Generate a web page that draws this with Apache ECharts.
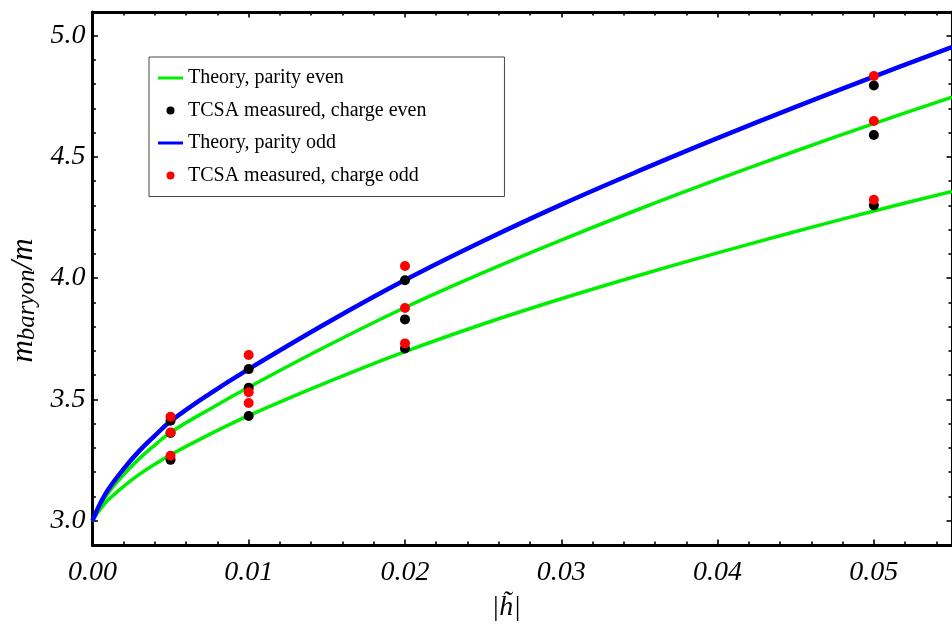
<!DOCTYPE html>
<html><head><meta charset="utf-8">
<script src="https://cdn.jsdelivr.net/npm/echarts@6/dist/echarts.min.js"></script>
<style>html,body{margin:0;padding:0;background:#fff}#c{width:952px;height:634px}</style>
</head><body><div id="c"></div>
<script>
// ---- data ----
const hCurve = [0, 0.0002, 0.0005, 0.001, 0.002, 0.003, 0.004, 0.005, 0.0075, 0.01, 0.015, 0.02, 0.025, 0.03, 0.035, 0.04, 0.045, 0.05, 0.055];
const theoryEvenLower = [3.0, 3.020, 3.047, 3.085, 3.142, 3.191, 3.233, 3.272, 3.356, 3.433, 3.570, 3.697, 3.811, 3.915, 4.012, 4.104, 4.192, 4.277, 4.357];
const theoryEvenUpper = [3.0, 3.027, 3.063, 3.114, 3.190, 3.256, 3.312, 3.364, 3.460, 3.550, 3.720, 3.879, 4.023, 4.157, 4.285, 4.407, 4.524, 4.637, 4.746];
const theoryOdd       = [3.0, 3.030, 3.071, 3.128, 3.214, 3.288, 3.351, 3.410, 3.523, 3.625, 3.815, 3.992, 4.153, 4.303, 4.443, 4.577, 4.706, 4.831, 4.952];

const hMeasured   = [0.005, 0.01, 0.02, 0.05];
const chargeEvenA = [3.412, 3.625, 3.991, 4.794];
const chargeEvenB = [3.362, 3.548, 3.830, 4.590];
const chargeEvenC = [3.251, 3.432, 3.710, 4.300];
const chargeOddA  = [3.429, 3.683, 4.050, 4.833];
const chargeOddB  = [3.364, 3.530, 3.877, 4.648];
const chargeOddC  = [3.268, 3.485, 3.731, 4.323];

const xMajorTicks = [0, 0.01, 0.02, 0.03, 0.04, 0.05];
const xMinorTicks = [0.002, 0.004, 0.006, 0.008, 0.012, 0.014, 0.016, 0.018, 0.022, 0.024, 0.026, 0.028,
                     0.032, 0.034, 0.036, 0.038, 0.042, 0.044, 0.046, 0.048, 0.052, 0.054];
const yMajorTicks = [3.0, 3.5, 4.0, 4.5, 5.0];
const yMinorTicks = [2.9, 3.1, 3.2, 3.3, 3.4, 3.6, 3.7, 3.8, 3.9, 4.1, 4.2, 4.3, 4.4, 4.6, 4.7, 4.8, 4.9, 5.1];

const nameEvenTheory = 'Theory, parity even';
const nameEvenTCSA = 'TCSA measured, charge even';
const nameOddTheory = 'Theory, parity odd';
const nameOddTCSA = 'TCSA measured, charge odd';

// ---- build ----
const zip = (xs, ys) => xs.map((x, i) => [x, ys[i]]);
const pts = (arrs) => arrs.flatMap(a => zip(hMeasured, a));

const FONT = 'Liberation Serif';
const X_MIN = 0, X_MAX = 0.055, Y_MIN = 2.9, Y_MAX = 5.097;
const LINE_ICON = 'path://M0,0L25,0L25,3L0,3Z';

function xAx(pos, ticks, len, withLine, withLabels) {
  return {
    type: 'value', position: pos, min: X_MIN, max: X_MAX,
    axisLine: { show: withLine, onZero: false, lineStyle: { color: '#000', width: 3 } },
    axisTick: { show: true, inside: true, length: len, customValues: ticks, lineStyle: { color: '#000', width: 1.6 } },
    axisLabel: withLabels ? {
      show: true, customValues: xMajorTicks, formatter: v => Number(v).toFixed(2),
      fontFamily: FONT, fontStyle: 'italic', fontSize: 28, color: '#000', margin: 14
    } : { show: false },
    splitLine: { show: false }
  };
}
function yAx(pos, ticks, len, withLine, withLabels) {
  return {
    type: 'value', position: pos, min: Y_MIN, max: Y_MAX,
    axisLine: { show: withLine, onZero: false, lineStyle: { color: '#000', width: 3 } },
    axisTick: { show: true, inside: true, length: len, customValues: ticks, lineStyle: { color: '#000', width: 1.6 } },
    axisLabel: withLabels ? {
      show: true, customValues: yMajorTicks, formatter: v => Number(v).toFixed(1),
      fontFamily: FONT, fontStyle: 'italic', fontSize: 28, color: '#000', margin: 7
    } : { show: false },
    splitLine: { show: false }
  };
}

const xBottom = xAx('bottom', xMajorTicks, 5.5, true, true);
xBottom.name = '|h\u0303|';
xBottom.nameLocation = 'middle';
xBottom.nameGap = 49;
xBottom.nameTextStyle = { fontFamily: FONT, fontStyle: 'italic', fontSize: 28, color: '#000', padding: [0, 32, 0, 0] };

const yLeft = yAx('left', yMajorTicks, 5.5, true, true);
yLeft.name = '{i|m}{s|baryon}{i|/m}';
yLeft.nameLocation = 'middle';
yLeft.nameRotate = 90;
yLeft.nameGap = 38;
yLeft.nameTextStyle = {
  padding: [0, 44, 0, 0],
  rich: {
    i: { fontFamily: FONT, fontStyle: 'italic', fontSize: 31, color: '#000', lineHeight: 32 },
    s: { fontFamily: FONT, fontStyle: 'italic', fontSize: 25, color: '#000', verticalAlign: 'bottom', lineHeight: 11 }
  }
};

const option = {
  animation: false,
  backgroundColor: '#fff',
  grid: { left: 92, right: -4, top: 12, bottom: 89, containLabel: false },
  xAxis: [
    xBottom,
    xAx('bottom', xMinorTicks, 3.5, false, false),
    xAx('top', xMajorTicks, 5.5, true, false),
    xAx('top', xMinorTicks, 3.5, false, false)
  ],
  yAxis: [
    yLeft,
    yAx('left', yMinorTicks, 3.5, false, false),
    yAx('right', yMajorTicks, 5.5, true, false),
    yAx('right', yMinorTicks, 3.5, false, false)
  ],
  legend: {
    orient: 'vertical', left: 149, top: 57,
    data: [
      { name: nameEvenTheory, icon: LINE_ICON },
      { name: nameEvenTCSA, icon: 'circle' },
      { name: nameOddTheory, icon: LINE_ICON },
      { name: nameOddTCSA, icon: 'circle' }
    ],
    itemWidth: 25, itemHeight: 8, itemGap: 12.5,
    padding: [11, 78, 11, 9],
    borderColor: '#444', borderWidth: 1, backgroundColor: '#fff',
    textStyle: { fontFamily: FONT, fontSize: 20, color: '#000', lineHeight: 20 },
    selectedMode: false
  },
  series: [
    { name: nameEvenTheory, type: 'line', data: zip(hCurve, theoryEvenLower), symbol: 'none', smooth: 0.4,
      lineStyle: { color: '#00ee00', width: 3.5 }, itemStyle: { color: '#00ee00' }, z: 2 },
    { name: nameEvenTheory, type: 'line', data: zip(hCurve, theoryEvenUpper), symbol: 'none', smooth: 0.4,
      lineStyle: { color: '#00ee00', width: 3.5 }, itemStyle: { color: '#00ee00' }, z: 2 },
    { name: nameOddTheory, type: 'line', data: zip(hCurve, theoryOdd), symbol: 'none', smooth: 0.4,
      lineStyle: { color: '#0000ff', width: 4.5 }, itemStyle: { color: '#0000ff' }, z: 2 },
    { name: nameEvenTCSA, type: 'scatter', data: pts([chargeEvenA, chargeEvenB, chargeEvenC]), symbol: 'circle', symbolSize: 10,
      itemStyle: { color: '#000000', opacity: 1 }, z: 3 },
    { name: nameOddTCSA, type: 'scatter', data: pts([chargeOddA, chargeOddB, chargeOddC]), symbol: 'circle', symbolSize: 10,
      itemStyle: { color: '#ff0000', opacity: 1 }, z: 4 }
  ]
};

const chart = echarts.init(document.getElementById('c'), null, { renderer: 'canvas' });
chart.setOption(option);
</script>
</body></html>
